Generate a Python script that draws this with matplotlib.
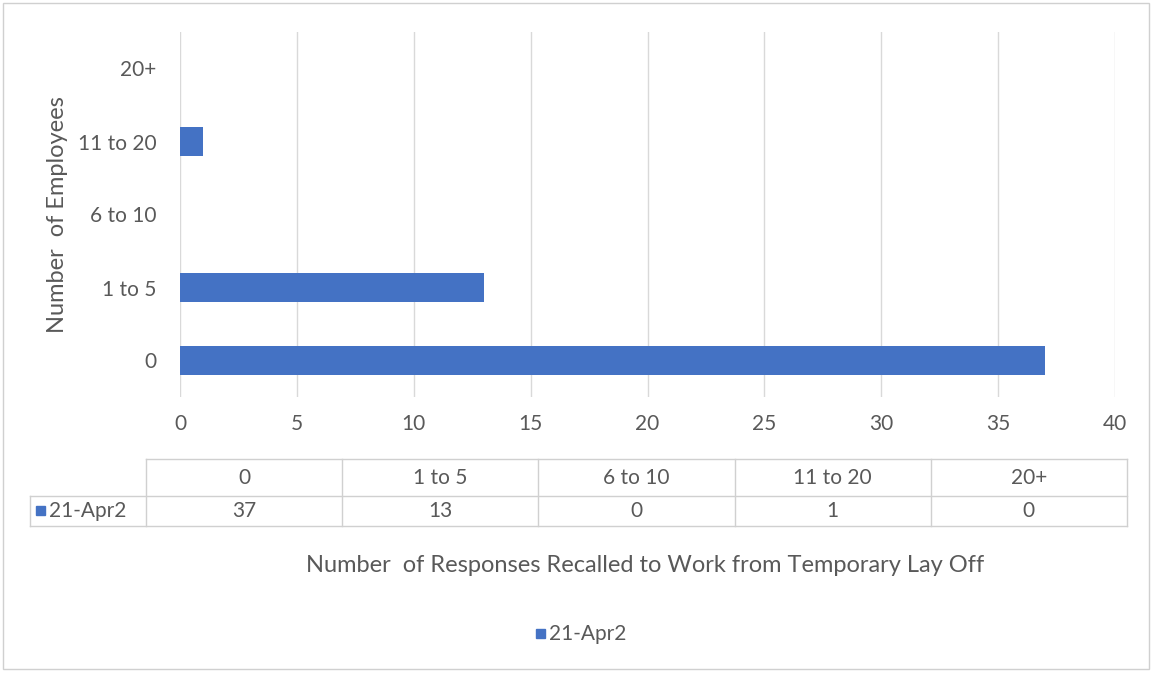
import matplotlib.pyplot as plt
from matplotlib.patches import Rectangle

# responses per bucket of employees recalled
categories = ['0', '1 to 5', '6 to 10', '11 to 20', '20+']
responses = [37, 13, 0, 1, 0]
series_name = '21-Apr2'
x_ticks = [0, 5, 10, 15, 20, 25, 30, 35, 40]

BLUE = '#4472C4'
TXT = '#595959'
GRID = '#D9D9D9'

plt.rcParams['font.family'] = ['Lato', 'DejaVu Sans']

W, H = 1153, 673
fig = plt.figure(figsize=(W / 100, H / 100), dpi=100)

# overlay axes in pixel units for frame, table and legend
bg = fig.add_axes([0, 0, 1, 1])
bg.set_xlim(0, W)
bg.set_ylim(H, 0)
bg.axis('off')
bg.add_patch(Rectangle((3, 3), W - 7, H - 7, fill=False, ec='#D0D0D0', lw=1))

# main bar axes
x0, x1 = 180, 1115
y0, y1 = 32, 397
ax = fig.add_axes([x0 / W, 1 - y1 / H, (x1 - x0) / W, (y1 - y0) / H])
ax.barh(range(len(categories)), responses, height=0.4, color=BLUE, zorder=3)
ax.set_xlim(0, 40)
ax.set_ylim(-0.5, len(categories) - 0.5)
ax.set_xticks(x_ticks)
ax.set_yticks(range(len(categories)))
ax.set_yticklabels(categories)
ax.grid(axis='x', color=GRID, lw=1, zorder=0)
for s in ax.spines.values():
    s.set_visible(False)
ax.tick_params(length=0, labelsize=15, colors=TXT)
ax.tick_params(axis='x', pad=12)
ax.tick_params(axis='y', pad=17)
ax.set_ylabel('Number  of Employees', fontsize=17, color=TXT)
ax.yaxis.set_label_coords((68 - x0) / (x1 - x0), 0.5)

# data table below the chart
col_left = 146
col_w = (1127 - col_left) / len(categories)
r0, r1, r2 = 459, 496, 526
lc = '#D0D0D0'
bg.plot([col_left, 1127], [r0, r0], color=lc, lw=1)
bg.plot([30, 1127], [r1, r1], color=lc, lw=1)
bg.plot([30, 1127], [r2, r2], color=lc, lw=1)
bg.plot([30, 30], [r1, r2], color=lc, lw=1)
for i in range(len(categories) + 1):
    xc = col_left + i * col_w
    bg.plot([xc, xc], [r0, r2], color=lc, lw=1)
for i, (c, v) in enumerate(zip(categories, responses)):
    xm = col_left + (i + 0.5) * col_w
    bg.text(xm, (r0 + r1) / 2, c, ha='center', va='center', fontsize=15, color=TXT)
    bg.text(xm, (r1 + r2) / 2, str(v), ha='center', va='center', fontsize=15, color=TXT)
bg.add_patch(Rectangle((36, 506), 9, 9, color=BLUE))
bg.text(49, (r1 + r2) / 2, series_name, ha='left', va='center', fontsize=15, color=TXT)

bg.text(645, 565, 'Number  of Responses Recalled to Work from Temporary Lay Off',
        ha='center', va='center', fontsize=17, color=TXT)

# legend
bg.add_patch(Rectangle((536, 629), 9, 9, color=BLUE))
bg.text(549, 634, series_name, ha='left', va='center', fontsize=15, color=TXT)

fig.savefig('out.png', dpi=100)
